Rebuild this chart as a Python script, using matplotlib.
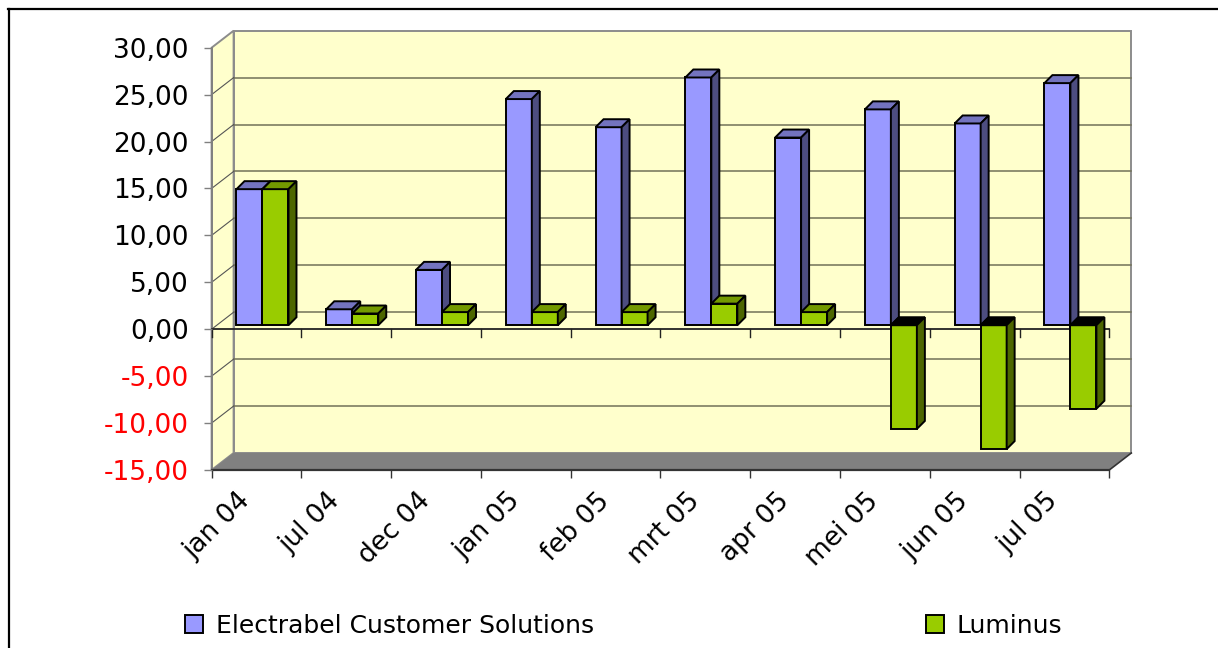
import matplotlib
matplotlib.use('Agg')
import matplotlib.pyplot as plt
from matplotlib.patches import Polygon, Patch
from matplotlib.lines import Line2D
import matplotlib.transforms as mtransforms

plt.rcParams['font.family'] = ['DejaVu Sans']

# ---------------- data ----------------
categories = ['jan 04', 'jul 04', 'dec 04', 'jan 05', 'feb 05',
              'mrt 05', 'apr 05', 'mei 05', 'jun 05', 'jul 05']
series_names = ['Electrabel Customer Solutions', 'Luminus']
ecs = [14.5, 1.7, 5.9, 24.1, 21.1, 26.4, 20.0, 23.0, 21.5, 25.8]
luminus = [14.5, 1.25, 1.4, 1.4, 1.4, 2.3, 1.4, -11.05, -13.2, -8.9]
ytick_values = [-15, -10, -5, 0, 5, 10, 15, 20, 25, 30]
ytick_labels = ['-15,00', '-10,00', '-5,00', '0,00', '5,00',
                '10,00', '15,00', '20,00', '25,00', '30,00']

# ---------------- style ----------------
face = ['#9999FF', '#99CC00']
top = ['#7373BF', '#739900']
side = ['#4D4D80', '#4D6600']
wall_color = '#FFFFCC'
floor_color = '#808080'
grid_color = '#727258'

W, H = 1218, 648
fig = plt.figure(figsize=(W / 100, H / 100), dpi=100)
ax = fig.add_axes([211.6 / W, 1 - 470 / H, 897.7 / W, 422.3 / H])
n = len(categories)
ax.set_xlim(-0.5, n - 0.5)
ax.set_ylim(ytick_values[0], ytick_values[-1])
ax.patch.set_visible(False)

sx = 897.7 / n
sy = 422.3 / (ytick_values[-1] - ytick_values[0])
def px_x(p):
    return p / sx
def px_y(p):
    return p / sy

ymin, ymax = ytick_values[0], ytick_values[-1]
xl, xr = -0.5, n - 0.5
WX, WY = px_x(22), px_y(17)      # wall depth
BX, BY = px_x(6), px_y(4)        # bar front offset
DX, DY = px_x(8), px_y(8)        # bar depth
bw = px_x(26)                    # bar width

def poly(pts, fc, ec='none', lw=0.0, z=1):
    p = Polygon(pts, closed=True, facecolor=fc, edgecolor=ec, linewidth=lw,
                zorder=z, clip_on=False, joinstyle='miter')
    ax.add_patch(p)

# back wall
poly([(xl + WX, ymin + WY), (xr + WX, ymin + WY), (xr + WX, ymax + WY), (xl + WX, ymax + WY)],
     wall_color, '#8C8C8C', 1.4, 0.5)
# left wall
poly([(xl, ymin), (xl, ymax), (xl + WX, ymax + WY), (xl + WX, ymin + WY)],
     wall_color, '#8C8C8C', 1.4, 0.6)
# floor
poly([(xl, ymin), (xr, ymin), (xr + WX, ymin + WY), (xl + WX, ymin + WY)],
     floor_color, 'none', 0, 0.7)
ax.plot([xr, xr + WX], [ymin, ymin + WY], color='#333333', lw=1.2, zorder=0.8, clip_on=False)

# gridlines
for v in ytick_values[1:-1]:
    ax.plot([xl + WX, xr + WX], [v + WY, v + WY], color=grid_color, lw=1.1,
            zorder=0.9, clip_on=False)
    ax.plot([xl, xl + WX], [v, v + WY], color='#555555', lw=0.8,
            zorder=0.9, clip_on=False)

# category axis at zero (front)
ax.plot([xl, xr], [0, 0], color='#222222', lw=1.3, zorder=1.5, clip_on=False)
for b in [i - 0.5 for i in range(n + 1)]:
    ax.plot([b, b], [0, -px_y(8)], color='#222222', lw=1.0, zorder=1.5, clip_on=False)

# bars
edge_lw = 1.4
for i in range(n):
    for s, vals in enumerate([ecs, luminus]):
        v = vals[i]
        x0 = i - bw + s * bw + BX
        x1 = x0 + bw
        y0 = 0 + BY
        y1 = v + BY
        z = 3 + i * 0.01 + s * 0.001
        # front
        poly([(x0, y0), (x1, y0), (x1, y1), (x0, y1)], face[s], 'black', edge_lw, z)
        if v >= 0:
            poly([(x0, y1), (x1, y1), (x1 + DX, y1 + DY), (x0 + DX, y1 + DY)],
                 top[s], 'black', edge_lw, z)
            poly([(x1, y0), (x1, y1), (x1 + DX, y1 + DY), (x1 + DX, y0 + DY)],
                 side[s], 'black', edge_lw, z)
        else:
            poly([(x0, y0), (x1, y0), (x1 + DX, y0 + DY), (x0 + DX, y0 + DY)],
                 '#000000', 'black', edge_lw, z)
            poly([(x1, y1), (x1, y0), (x1 + DX, y0 + DY), (x1 + DX, y1 + DY)],
                 side[s], 'black', edge_lw, z)

# axes / ticks
for sp in ['top', 'right']:
    ax.spines[sp].set_visible(False)
ax.spines['left'].set_color('#808080')
ax.spines['left'].set_linewidth(1.4)
ax.spines['left'].set_zorder(0.95)
ax.spines['bottom'].set_color('#333333')
ax.spines['bottom'].set_linewidth(1.6)
ax.spines['bottom'].set_zorder(1.2)

ax.set_yticks(ytick_values, ytick_labels)
ax.tick_params(axis='y', length=5.8, width=1.0, color='#808080', pad=10.5,
               labelsize=19)
for lab, v in zip(ax.get_yticklabels(), ytick_values):
    lab.set_color('#FF0000' if v < 0 else '#000000')

ax.set_xticks([i - 0.5 for i in range(n + 1)])
ax.tick_params(axis='x', length=5.8, width=1.0, color='#333333', labelbottom=False)

trans = mtransforms.offset_copy(ax.transData, fig=fig, x=-19, y=-18, units='dots')
for i, c in enumerate(categories):
    ax.text(i, ymin, c, transform=trans, rotation=45, rotation_mode='anchor',
            ha='right', va='top', fontsize=19)

# legend
handles = [Patch(facecolor=face[0], edgecolor='black', linewidth=1.4),
           Patch(facecolor=face[1], edgecolor='black', linewidth=1.4)]
fig.legend(handles, series_names, loc='center left',
           bbox_to_anchor=(185 / W, 1 - 626 / H), ncol=2, frameon=False,
           fontsize=18, handlelength=0.72, handleheight=0.72,
           handletextpad=0.5, columnspacing=13.3, borderpad=0, borderaxespad=0)

# outer border
fig.add_artist(Line2D([8.5 / W, 8.5 / W], [1 - 9 / H, 0], transform=fig.transFigure,
                      color='black', lw=1.6))
fig.add_artist(Line2D([8 / W, 1], [1 - 9 / H, 1 - 9 / H], transform=fig.transFigure,
                      color='black', lw=1.6))

fig.savefig('out.png', dpi=100)
